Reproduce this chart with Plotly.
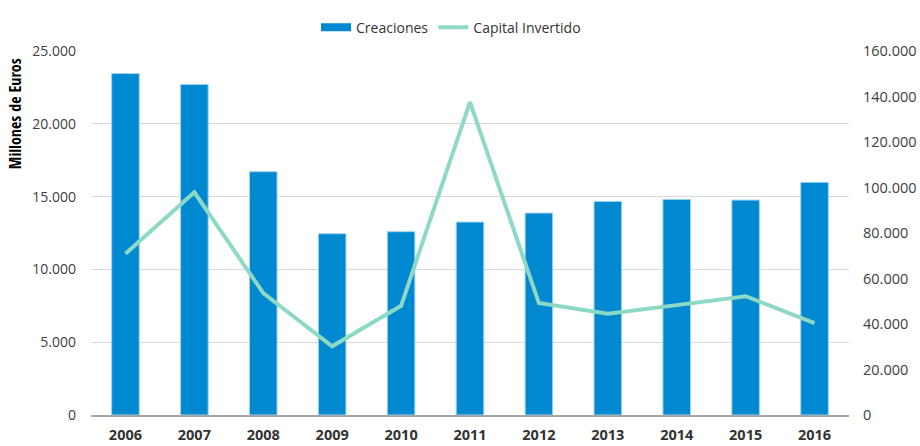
import plotly.graph_objects as go

years = ["2006", "2007", "2008", "2009", "2010", "2011", "2012", "2013", "2014", "2015", "2016"]
creaciones = [23450, 22700, 16710, 12450, 12590, 13250, 13870, 14670, 14810, 14760, 15980]
capital = [70900, 97900, 53600, 30200, 48000, 137500, 49200, 44500, 48300, 52200, 40400]

left_ticks = [0, 5000, 10000, 15000, 20000, 25000]
right_ticks = [0, 20000, 40000, 60000, 80000, 100000, 120000, 140000, 160000]

font_family = "Open Sans, Noto Sans, sans-serif"
bar_color = "#0089D0"
line_color = "#8ED8C6"

fig = go.Figure()
fig.add_trace(go.Bar(
    x=years, y=creaciones, name="Creaciones", showlegend=False,
    marker=dict(color=bar_color, line=dict(color="#9ED3F0", width=1)),
    width=0.4, yaxis="y",
))
# legend entry with a wide rectangular swatch for the bars
fig.add_trace(go.Scatter(
    x=[None], y=[None], name="Creaciones", mode="lines",
    line=dict(color=bar_color, width=8), yaxis="y", showlegend=True,
))
fig.add_trace(go.Scatter(
    x=years, y=capital, name="Capital Invertido", mode="lines",
    line=dict(color=line_color, width=4), yaxis="y2",
))

fig.add_annotation(
    text="Millones de Euros", textangle=-90, xref="paper", yref="paper",
    x=-0.1, y=0.985, xanchor="center", yanchor="top", showarrow=False,
    font=dict(size=16, color="#000000", weight="bold", family="Open Sans Condensed, Roboto Condensed, Roboto, sans-serif"),
)

fig.update_layout(
    width=920, height=446,
    margin=dict(l=91, r=71, t=51, b=31, autoexpand=False),
    paper_bgcolor="white", plot_bgcolor="white",
    separators=",.",
    font=dict(family=font_family, size=14, color="#333333"),
    showlegend=True,
    legend=dict(orientation="h", x=0.475, xanchor="center", y=1.064, yanchor="middle",
                font=dict(size=14, color="#333333"), bgcolor="rgba(0,0,0,0)",
                traceorder="normal"),
    xaxis=dict(
        type="category", showgrid=False, showline=True, linecolor="#A6A6A6", linewidth=1.5,
        ticks="", tickfont=dict(size=14.5, color="#333333", weight="bold"),
        range=[-0.5, 10.5], ticklabelstandoff=6, automargin=False,
    ),
    yaxis=dict(
        range=[0, 25000], tickvals=left_ticks, tickformat=",d",
        showgrid=True, gridcolor="#D9D9D9", gridwidth=1, zeroline=False, showline=False,
        ticks="", tickfont=dict(size=14, color="#404040"), ticklabelstandoff=14, automargin=False,
    ),
    yaxis2=dict(
        range=[0, 160000], tickvals=right_ticks, tickformat=",d", overlaying="y", side="right",
        showgrid=False, zeroline=False, showline=False,
        ticks="", tickfont=dict(size=14.5, color="#404040"), ticklabelstandoff=13, automargin=False,
    ),
)

fig.write_html("out.html", config={"displayModeBar": False},
               post_script="document.body.style.margin='0';document.body.style.overflow='hidden';")
